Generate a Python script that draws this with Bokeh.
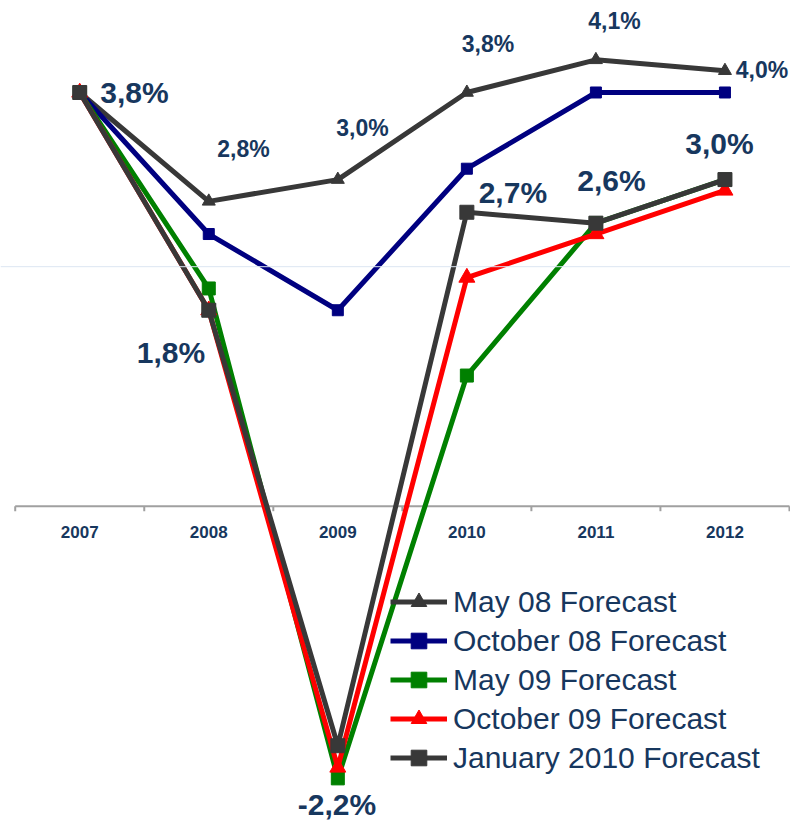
from bokeh.plotting import figure
from bokeh.models import Range1d, Span, Legend, LegendItem
from bokeh.core.properties import value
from bokeh.embed import file_html
from bokeh.resources import INLINE

# ---------------- data ----------------
YEARS = [2007, 2008, 2009, 2010, 2011, 2012]
YEAR_LABELS = ["2007", "2008", "2009", "2010", "2011", "2012"]
MAY08 = [3.8, 2.8, 3.0, 3.8, 4.1, 4.0]
OCT08 = [3.8, 2.5, 1.8, 3.1, 3.8, 3.8]
MAY09 = [3.8, 2.0, -2.5, 1.2, 2.6, 3.0]
OCT09 = [3.8, 1.8, -2.4, 2.1, 2.5, 2.9]
JAN10 = [3.8, 1.8, -2.2, 2.7, 2.6, 3.0]
SERIES_NAMES = ["May 08 Forecast", "October 08 Forecast", "May 09 Forecast",
                "October 09 Forecast", "January 2010 Forecast"]

# ---------------- styles ----------------
FONT = "Liberation Sans"
TEXT_COLOR = "#17375E"
W, H = 790, 821
X_RANGE = (2006.386, 2012.508)
Y_RANGE = (-2.896, 4.645)
PX_PER_UNIT = H / (Y_RANGE[1] - Y_RANGE[0])
GRID_LEVEL = 2.2

STYLES = [
    dict(color="#383838", marker="triangle", size=13),
    dict(color="#000080", marker="square", size=11),
    dict(color="#008000", marker="square", size=13),
    dict(color="#ff0000", marker="triangle", size=16),
    dict(color="#383838", marker="square", size=14),
]

JAN_DX = [54.8, -37.8, -0.8, 46.0, 15.6, -5.5]
JAN_DY = [0.0, 42.3, 58.8, -19.8, -42.6, -36.1]
MAY08_DX = [34.7, 24.7, 21.1, 18.6, 37.0]
MAY08_DY = [-51.9, -51.1, -48.5, -39.3, -1.2]


def fmt(v):
    return f"{v:.1f}".replace(".", ",") + "%"


p = figure(width=W, height=H, x_range=Range1d(*X_RANGE), y_range=Range1d(*Y_RANGE),
           output_backend="svg", toolbar_location=None, min_border=0,
           x_axis_location=None, y_axis_location=None,
           outline_line_color=None, background_fill_color="white",
           border_fill_color="white")
p.grid.visible = False

# faint gridline
p.add_layout(Span(location=GRID_LEVEL, dimension="width",
                  line_color="#dce6f2", line_width=1))

# category axis drawn at zero
bounds = [y - 0.5 for y in YEARS] + [YEARS[-1] + 0.5]
p.segment(x0=[bounds[0]], y0=[0], x1=[bounds[-1]], y1=[0],
          line_color="#a0a0a0", line_width=2)
tick_len = 5 / PX_PER_UNIT
p.segment(x0=bounds, y0=[0] * len(bounds), x1=bounds, y1=[-tick_len] * len(bounds),
          line_color="#a0a0a0", line_width=2)
p.text(x=YEARS, y=[0] * len(YEARS), text=YEAR_LABELS, y_offset=26,
       text_align="center", text_baseline="middle",
       text_font=value(FONT), text_font_style="bold", text_font_size="17px",
       text_color=TEXT_COLOR)

items = []
for name, vals, st in zip(SERIES_NAMES, [MAY08, OCT08, MAY09, OCT09, JAN10], STYLES):
    rl = p.line(YEARS, vals, line_color=st["color"], line_width=5, line_join="round")
    rm = p.scatter(YEARS, vals, marker=st["marker"], size=st["size"],
                   fill_color=st["color"], line_color=st["color"])
    items.append(LegendItem(label=name, renderers=[rl, rm]))

# data labels
p.text(x=YEARS, y=JAN10, text=[fmt(v) for v in JAN10], x_offset=JAN_DX, y_offset=JAN_DY,
       text_align="center", text_baseline="middle", text_font=value(FONT),
       text_font_style="bold", text_font_size="30px", text_color=TEXT_COLOR)
p.text(x=YEARS[1:], y=MAY08[1:], text=[fmt(v) for v in MAY08[1:]],
       x_offset=MAY08_DX, y_offset=MAY08_DY,
       text_align="center", text_baseline="middle", text_font=value(FONT),
       text_font_style="bold", text_font_size="23px", text_color=TEXT_COLOR)

legend = Legend(items=items, location=(390, 44), padding=0, margin=0, spacing=0,
                label_height=39, glyph_height=39, glyph_width=57, label_standoff=6,
                border_line_color=None, background_fill_alpha=0,
                label_text_font=FONT, label_text_font_size="30px",
                label_text_color=TEXT_COLOR)
p.add_layout(legend, "center")

open("out.html", "w").write(file_html(p, INLINE))
